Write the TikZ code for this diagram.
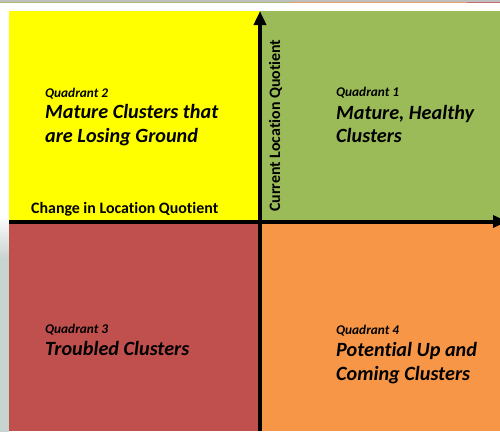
\documentclass[tikz,border=0pt]{standalone}
\usepackage{fontspec}
\setmainfont{Carlito}[Ligatures=NoCommon]
\usetikzlibrary{arrows.meta}
\definecolor{qyellow}{HTML}{FFFF00}
\definecolor{qgreen}{HTML}{9BBB59}
\definecolor{qred}{HTML}{C0504D}
\definecolor{qorange}{HTML}{F79646}
\definecolor{leftgrey}{HTML}{C8D4D0}
\definecolor{topgrey}{HTML}{BFBFBF}
\tikzset{
  qsmall/.style={inner sep=0pt, anchor=base west, font=\fontsize{13.3}{15}\selectfont\bfseries\itshape},
  qbig/.style={inner sep=0pt, anchor=base west, font=\fontsize{20.2}{23}\selectfont\bfseries\itshape},
  axislabel/.style={inner sep=0pt, font=\fontsize{15.9}{18}\selectfont\bfseries},
  axis/.style={line width=4pt, -{Triangle[length=14pt,width=12pt]}},
}
\begin{document}
\begin{tikzpicture}[x=1pt,y=-1pt]
\useasboundingbox (0,0) rectangle (500,432);
\fill[white] (0,0) rectangle (500,432);
% top strip
\fill[topgrey] (0,0) rectangle (500,1.5);
\fill[qgreen!70!topgrey] (0,1.5) rectangle (290,3);
\fill[qorange!70!topgrey] (290,1.5) rectangle (467,3);
\fill[qred!70!topgrey] (467,1.5) rectangle (500,3);
% left strip
\shade[top color=white, bottom color=leftgrey] (0,215) rectangle (9,258);
\fill[leftgrey] (0,258) rectangle (9,432);
% quadrants
\fill[qyellow] (9,11) rectangle (260,221.5);
\fill[qgreen] (260,11) rectangle (500,221.5);
\fill[qred] (9,221.5) rectangle (260,431);
\fill[qorange] (260,221.5) rectangle (500,431);
% axes
\coordinate (hstart) at (9,221.5);
\coordinate (hend) at (507,221.5);
\coordinate (vstart) at (260,431);
\coordinate (vend) at (260,11);
\draw[axis] (hstart) -- (hend);
\draw[axis] (vstart) -- (vend);
% axis labels
\node[axislabel, anchor=base west] (xlabel) at (31,213.3) {Change in Location Quotient};
\node[axislabel, anchor=base west, rotate=90] (ylabel) at (280,212) {Current Location Quotient};
% Quadrant 2
\node[qsmall] (q2a) at (45,97.7) {Quadrant 2};
\node[qbig] (q2b) at (45,118.3) {Mature Clusters that};
\node[qbig] (q2c) at (45,142.7) {are Losing Ground};
% Quadrant 1
\node[qsmall] (q1a) at (336,96) {Quadrant 1};
\node[qbig] (q1b) at (336,119) {Mature, Healthy};
\node[qbig] (q1c) at (336,142.7) {Clusters};
% Quadrant 3
\node[qsmall] (q3a) at (45,333) {Quadrant 3};
\node[qbig] (q3b) at (45,355.7) {Troubled Clusters};
% Quadrant 4
\node[qsmall] (q4a) at (336,334) {Quadrant 4};
\node[qbig] (q4b) at (336,356.7) {Potential Up and};
\node[qbig] (q4c) at (336,380) {Coming Clusters};
\end{tikzpicture}
\end{document}
